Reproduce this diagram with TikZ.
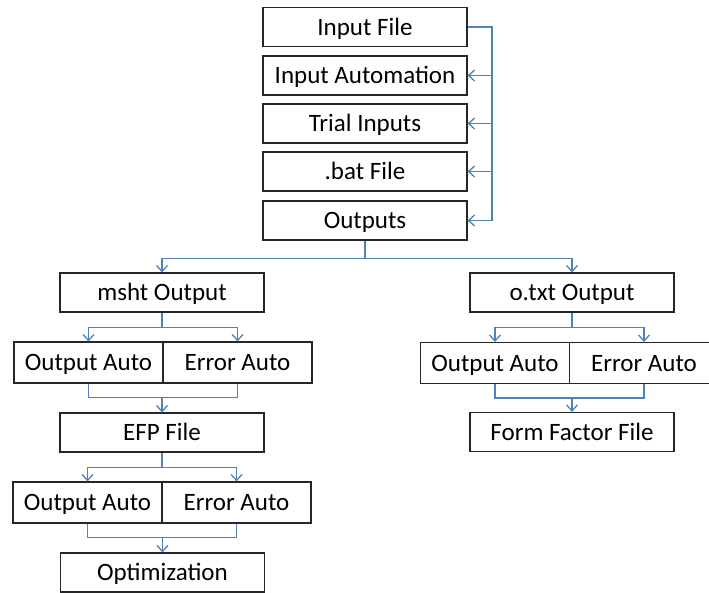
\documentclass[tikz,border=0pt]{standalone}
\usepackage{fontspec}
\setmainfont{Carlito}
\usepackage{tikz}
\usetikzlibrary{arrows.meta}
\definecolor{LinkBlue}{HTML}{4F81BD}
\definecolor{BoxEdge}{HTML}{262626}

\begin{document}
\begin{tikzpicture}[x=1pt,y=-1pt,>={Straight Barb[length=6pt,width=11pt]},
  box/.style={draw=BoxEdge,line width=1.2pt,rectangle,inner sep=0pt,minimum width=204pt,minimum height=39pt,text height=19pt,text depth=3pt,font=\fontsize{25}{29}\selectfont},
  cell/.style={box,minimum width=149pt,minimum height=41pt},
  link/.style={draw=LinkBlue,line width=1.3pt}]
\useasboundingbox (0,0) rectangle (709,592);
\clip (0,0) rectangle (709,592);
% top chain
\node[box] (infile) at (365,27) {Input File};
\node[box] (inauto) at (365,75.5) {Input Automation};
\node[box] (trial) at (365,123.5) {Trial Inputs};
\node[box] (bat) at (365,171.5) {.bat File};
\node[box] (outputs) at (365,220.5) {Outputs};
\coordinate (bus) at (492,27);
\draw[link,->] (infile.east) -- (bus) -- (bus |- outputs.east) -- (outputs.east);
\foreach \n in {inauto,trial,bat}{\draw[link,->] (bus |- \n.east) -- (\n.east);}
% left branch
\node[box] (msht) at (162,292.5) {msht Output};
\node[cell] (outauto1) at (88.5,362.5) {Output Auto};
\node[cell] (errauto1) at (237.5,362.5) {Error Auto};
\node[box] (efp) at (162,432.5) {EFP File};
\node[cell] (outauto2) at (87.5,502.5) {Output Auto};
\node[cell] (errauto2) at (236.5,502.5) {Error Auto};
\node[box] (optim) at (162.5,572.5) {Optimization};
% right branch
\node[box] (otxt) at (572,292.5) {o.txt Output};
\node[cell] (outauto3) at (495,363) {Output Auto};
\node[cell] (errauto3) at (644,363) {Error Auto};
\node[box] (ffile) at (572,432) {Form Factor File};
% connectors
\draw[link,->] (outputs.south) -- ++(0,18) coordinate (split) -| (msht.north);
\draw[link,->] (split) -| (otxt.north);
\foreach \a/\b/\c/\d in {msht/outauto1/errauto1/efp,efp/outauto2/errauto2/optim,otxt/outauto3/errauto3/ffile}{
  \draw[link,->] (\a.south) -- ++(0,15) coordinate (f) -| (\b.north);
  \draw[link,->] (f) -| (\c.north);
  \draw[link] (\b.south) -- ++(0,14) coordinate (m) -| (\c.south);
  \draw[link,->] (m -| \d.north) -- (\d.north);}
\end{tikzpicture}
\end{document}
